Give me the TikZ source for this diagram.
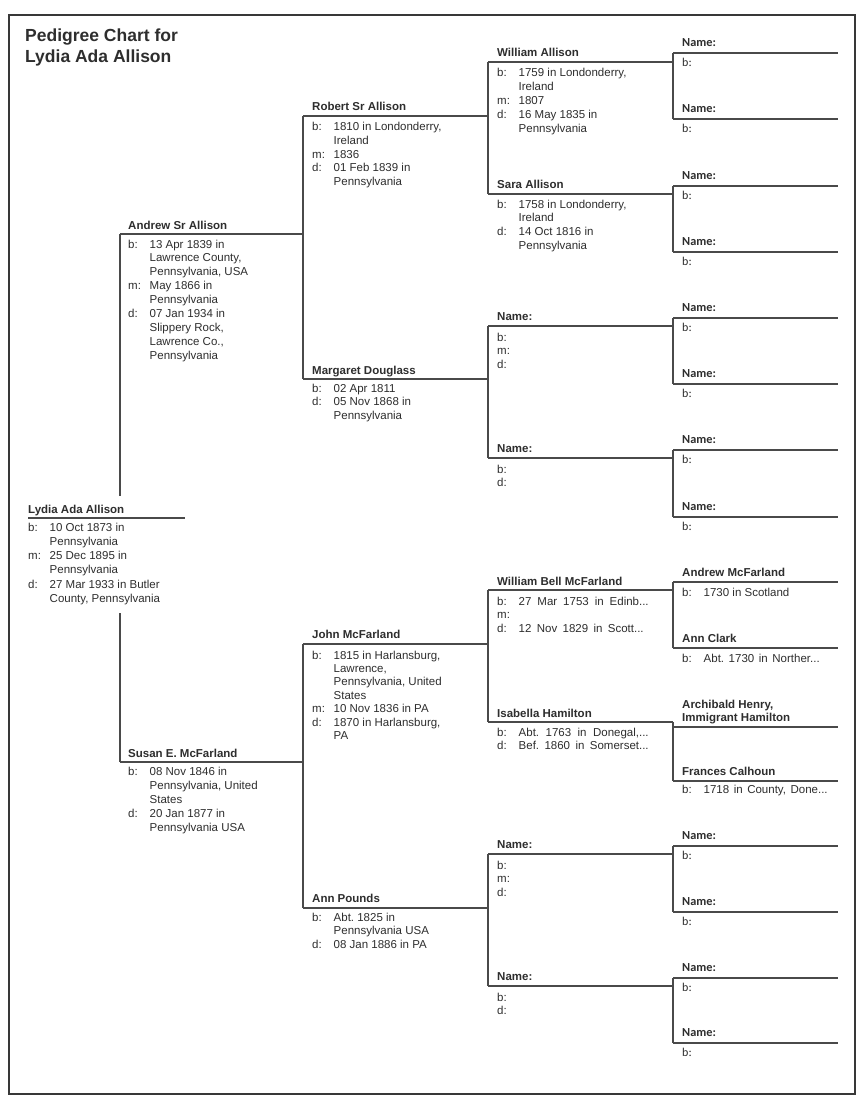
\documentclass[tikz,border=0pt]{standalone}
\usepackage{fontspec}
\setmainfont{Liberation Sans}
\newfontfamily\carl{Carlito}
\frenchspacing
\definecolor{ink}{HTML}{2e2e2e}
\definecolor{rulec}{HTML}{4a4a4a}
\definecolor{framec}{HTML}{383838}
\tikzset{
 ln/.style={draw=rulec,line width=1.3pt},
 frm/.style={draw=framec,line width=2.6pt},
 nm/.style={anchor=base west,inner sep=0pt,text=ink,font=\fontsize{11.5}{14}\selectfont\bfseries},
 dt/.style={anchor=base west,inner sep=0pt,text=ink,font=\fontsize{11.5}{#1}\selectfont},
 dt/.default=13.8,
 ttl/.style={anchor=base west,inner sep=0pt,text=ink,font=\fontsize{17.5}{21}\selectfont\bfseries},
 bn/.style={anchor=base west,inner sep=0pt,text=ink,font=\carl\fontsize{12.3}{14}\selectfont\bfseries},
 bb/.style={anchor=base west,inner sep=0pt,text=ink,font=\carl\fontsize{12}{14}\selectfont},
}
\newcommand\lb[1]{\makebox[21.5pt][l]{#1}}
\newcommand\jw[2]{\makebox[#1][s]{#2}}
\newcommand\pline[4]{\coordinate (#1-l) at (#2,#4); \coordinate (#1-r) at (#3,#4); \draw[ln] (#1-l) -- (#1-r);}
\newcommand\gfive[2]{\pline{#1}{673}{838}{#2}
  \node[bn] (#1-n) at (682,#2-6.5) {Name:};
  \node[bb] (#1-b) at (682,#2+13.5) {b:};}
\begin{document}
\begin{tikzpicture}[x=1pt,y=-1pt]
\useasboundingbox (0,0) rectangle (867,1105);
\fill[white] (0,0) rectangle (867,1105);
\draw[frm] (9,15) rectangle (855,1094);
\node[ttl] (t1) at (25,42) {Pedigree Chart for};
\node[ttl] (t2) at (25,63) {Lydia Ada Allison};

% ---------- generation 1
\pline{lyd}{28}{185}{518}
\node[nm] (lyd) at (28,513) {Lydia Ada Allison};
\node[dt=14.3] (lyd-d) at (28,531) {\begin{tabular}[t]{@{}l@{}}
\lb{b:}10 Oct 1873 in\\ \lb{}Pennsylvania\\ \lb{m:}25 Dec 1895 in\\ \lb{}Pennsylvania\\
\lb{d:}27 Mar 1933 in Butler\\ \lb{}County, Pennsylvania\end{tabular}};
\coordinate (lyd-top) at (120,496);
\coordinate (lyd-bot) at (120,613);

% ---------- generation 2
\pline{andrew}{120}{303}{234}
\node[nm] (andrew) at (128,229) {Andrew Sr Allison};
\node[dt=13.9] (andrew-d) at (128,248) {\begin{tabular}[t]{@{}l@{}}
\lb{b:}13 Apr 1839 in\\ \lb{}Lawrence County,\\ \lb{}Pennsylvania, USA\\
\lb{m:}May 1866 in\\ \lb{}Pennsylvania\\
\lb{d:}07 Jan 1934 in\\ \lb{}Slippery Rock,\\ \lb{}Lawrence Co.,\\ \lb{}Pennsylvania\end{tabular}};
\pline{susan}{120}{303}{762}
\node[nm] (susan) at (128,757) {Susan E. McFarland};
\node[dt=14] (susan-d) at (128,775) {\begin{tabular}[t]{@{}l@{}}
\lb{b:}08 Nov 1846 in\\ \lb{}Pennsylvania, United\\ \lb{}States\\
\lb{d:}20 Jan 1877 in\\ \lb{}Pennsylvania USA\end{tabular}};
\draw[ln] (andrew-l) -- (lyd-top);
\draw[ln] (lyd-bot) -- (susan-l);

% ---------- generation 3
\pline{robert}{303}{488}{116}
\node[nm] (robert) at (312,110.5) {Robert Sr Allison};
\node[dt=13.6] (robert-d) at (312,131) {\begin{tabular}[t]{@{}l@{}}
\lb{b:}1810 in Londonderry,\\ \lb{}Ireland\\ \lb{m:}1836\\
\lb{d:}01 Feb 1839 in\\ \lb{}Pennsylvania\end{tabular}};
\pline{marg}{303}{488}{379}
\node[nm] (marg) at (312,374) {Margaret Douglass};
\node[dt=13.8] (marg-d) at (312,392) {\begin{tabular}[t]{@{}l@{}}
\lb{b:}02 Apr 1811\\ \lb{d:}05 Nov 1868 in\\ \lb{}Pennsylvania\end{tabular}};
\pline{john}{303}{488}{644}
\node[nm] (john) at (312,638) {John McFarland};
\node[dt=13.4] (john-d) at (312,659) {\begin{tabular}[t]{@{}l@{}}
\lb{b:}1815 in Harlansburg,\\ \lb{}Lawrence,\\ \lb{}Pennsylvania, United\\ \lb{}States\\
\lb{m:}10 Nov 1836 in PA\\ \lb{d:}1870 in Harlansburg,\\ \lb{}PA\end{tabular}};
\pline{ann}{303}{488}{908}
\node[nm] (ann) at (312,902) {Ann Pounds};
\node[dt=13.8] (ann-d) at (312,921) {\begin{tabular}[t]{@{}l@{}}
\lb{b:}Abt. 1825 in\\ \lb{}Pennsylvania USA\\ \lb{d:}08 Jan 1886 in PA\end{tabular}};
\draw[ln] (robert-l) -- (marg-l);
\draw[ln] (john-l) -- (ann-l);

% ---------- generation 4
\pline{will}{488}{673}{62}
\node[nm] (will) at (497,57) {William Allison};
\node[dt=13.8] (will-d) at (497,77) {\begin{tabular}[t]{@{}l@{}}
\lb{b:}1759 in Londonderry,\\ \lb{}Ireland\\ \lb{m:}1807\\
\lb{d:}16 May 1835 in\\ \lb{}Pennsylvania\end{tabular}};
\pline{sara}{488}{673}{194}
\node[nm] (sara) at (497,188) {Sara Allison};
\node[dt=13.8] (sara-d) at (497,208) {\begin{tabular}[t]{@{}l@{}}
\lb{b:}1758 in Londonderry,\\ \lb{}Ireland\\
\lb{d:}14 Oct 1816 in\\ \lb{}Pennsylvania\end{tabular}};
\pline{ua}{488}{673}{326}
\node[nm] (ua) at (497,320) {Name:};
\node[dt=13.8] (ua-d) at (497,341) {\begin{tabular}[t]{@{}l@{}}b:\\ m:\\ d:\end{tabular}};
\pline{ub}{488}{673}{458}
\node[nm] (ub) at (497,452) {Name:};
\node[dt=13.8] (ub-d) at (497,473) {\begin{tabular}[t]{@{}l@{}}b:\\ d:\end{tabular}};
\pline{wbm}{488}{673}{590}
\node[nm] (wbm) at (497,585) {William Bell McFarland};
\node[dt=13.8] (wbm-d) at (497,605) {\begin{tabular}[t]{@{}l@{}}
\lb{b:}\jw{130pt}{27 Mar 1753 in Edinb...}\\ \lb{m:}\\
\lb{d:}\jw{125pt}{12 Nov 1829 in Scott...}\end{tabular}};
\pline{isa}{488}{673}{722}
\node[nm] (isa) at (497,717) {Isabella Hamilton};
\node[dt=13.8] (isa-d) at (497,736) {\begin{tabular}[t]{@{}l@{}}
\lb{b:}\jw{130pt}{Abt. 1763 in Donegal,...}\\
\lb{d:}\jw{130pt}{Bef. 1860 in Somerset...}\end{tabular}};
\pline{uc}{488}{673}{854}
\node[nm] (uc) at (497,848) {Name:};
\node[dt=13.8] (uc-d) at (497,869) {\begin{tabular}[t]{@{}l@{}}b:\\ m:\\ d:\end{tabular}};
\pline{ud}{488}{673}{986}
\node[nm] (ud) at (497,980) {Name:};
\node[dt=13.8] (ud-d) at (497,1001) {\begin{tabular}[t]{@{}l@{}}b:\\ d:\end{tabular}};
\draw[ln] (will-l) -- (sara-l);
\draw[ln] (ua-l) -- (ub-l);
\draw[ln] (wbm-l) -- (isa-l);
\draw[ln] (uc-l) -- (ud-l);

% ---------- generation 5
\gfive{g1}{53}
\gfive{g2}{119}
\gfive{g3}{186}
\gfive{g4}{252}
\gfive{g5}{318}
\gfive{g6}{384}
\gfive{g7}{450}
\gfive{g8}{517}
\gfive{g13}{846}
\gfive{g14}{912}
\gfive{g15}{978}
\gfive{g16}{1043}
\pline{amc}{673}{838}{582}
\node[nm] (amc) at (682,576.5) {Andrew McFarland};
\node[dt] (amc-d) at (682,596) {\lb{b:}1730 in Scotland};
\pline{acl}{673}{838}{648}
\node[nm] (acl) at (682,642) {Ann Clark};
\node[dt] (acl-d) at (682,662) {\lb{b:}\jw{116pt}{Abt. 1730 in Norther...}};
\pline{arch}{673}{838}{727}
\node[nm] (arch1) at (682,708) {Archibald Henry,};
\node[nm] (arch2) at (682,721) {Immigrant Hamilton};
\pline{fcal}{673}{838}{781}
\node[nm] (fcal) at (682,775) {Frances Calhoun};
\node[dt] (fcal-d) at (682,793) {\lb{b:}\jw{124pt}{1718 in County, Done...}};
\draw[ln] (g1-l) -- (g2-l);
\draw[ln] (g3-l) -- (g4-l);
\draw[ln] (g5-l) -- (g6-l);
\draw[ln] (g7-l) -- (g8-l);
\draw[ln] (amc-l) -- (acl-l);
\draw[ln] (isa-r) -- (fcal-l);
\draw[ln] (g13-l) -- (g14-l);
\draw[ln] (g15-l) -- (g16-l);
\end{tikzpicture}
\end{document}
